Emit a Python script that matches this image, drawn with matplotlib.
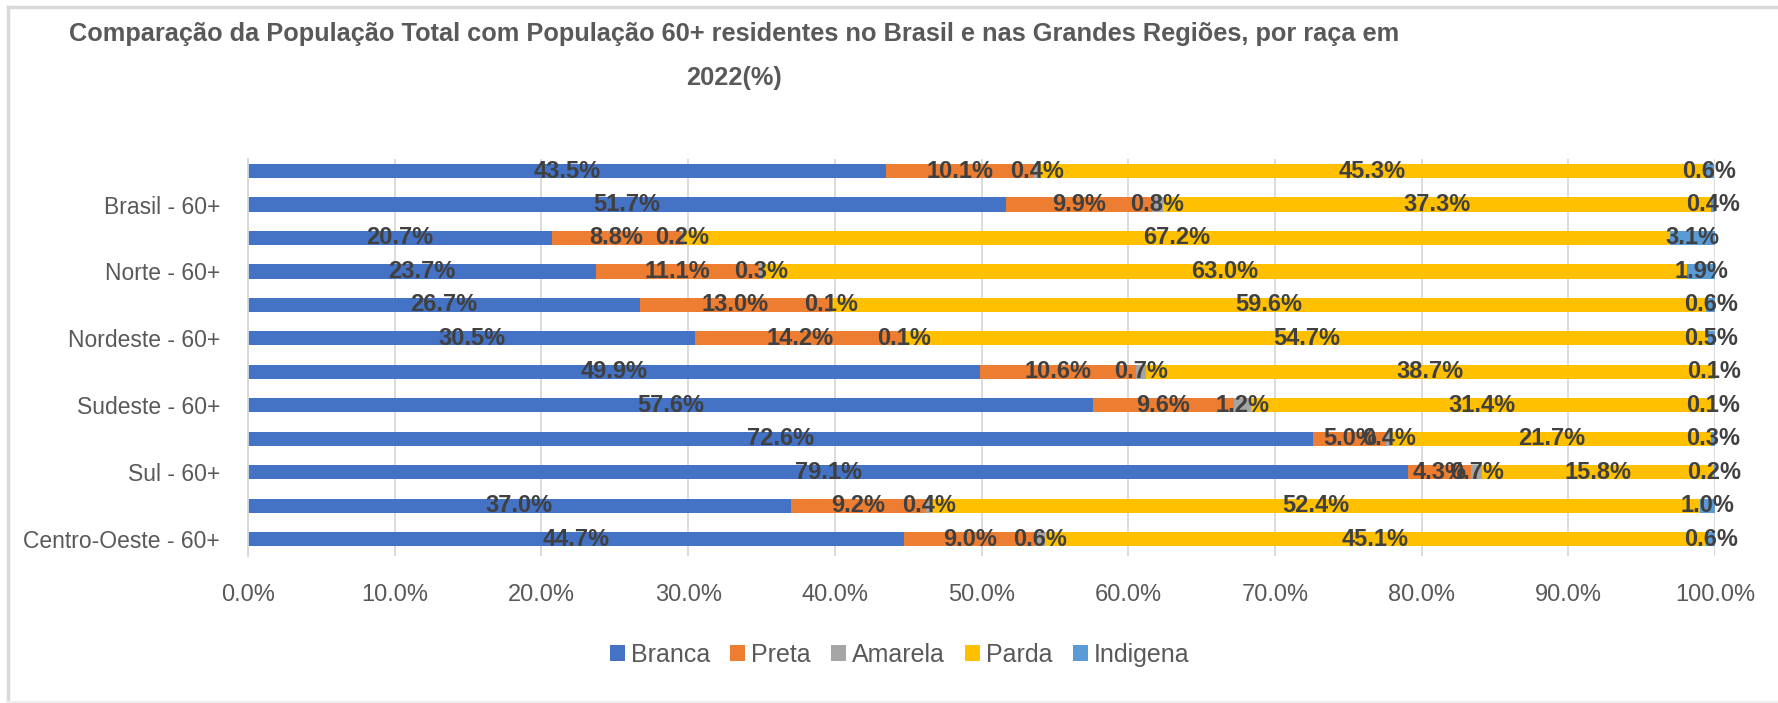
import numpy as np
import matplotlib
matplotlib.use('Agg')
import matplotlib.pyplot as plt
from matplotlib.lines import Line2D
from matplotlib.ticker import FuncFormatter

plt.rcParams['font.family'] = ['Liberation Sans Narrow', 'Liberation Sans', 'DejaVu Sans']

# ─────────────────────────────────────────
# DATA (% of population by race, 2022)
# ─────────────────────────────────────────
categories = ['Brasil', 'Brasil - 60+', 'Norte', 'Norte - 60+',
              'Nordeste', 'Nordeste - 60+', 'Sudeste', 'Sudeste - 60+',
              'Sul', 'Sul - 60+', 'Centro-Oeste', 'Centro-Oeste - 60+']
series = ['Branca', 'Preta', 'Amarela', 'Parda', 'Indigena']

branca   = [43.5, 51.7, 20.7, 23.7, 26.7, 30.5, 49.9, 57.6, 72.6, 79.1, 37.0, 44.7]
preta    = [10.1,  9.9,  8.8, 11.1, 13.0, 14.2, 10.6,  9.6,  5.0,  4.3,  9.2,  9.0]
amarela  = [ 0.4,  0.8,  0.2,  0.3,  0.1,  0.1,  0.7,  1.2,  0.4,  0.7,  0.4,  0.6]
parda    = [45.3, 37.3, 67.2, 63.0, 59.6, 54.7, 38.7, 31.4, 21.7, 15.8, 52.4, 45.1]
indigena = [ 0.6,  0.4,  3.1,  1.9,  0.6,  0.5,  0.1,  0.1,  0.3,  0.2,  1.0,  0.6]

colors = ['#4472C4', '#ED7D31', '#A5A5A5', '#FFC000', '#5B9BD5']

# ─────────────────────────────────────────
# PLOT
# ─────────────────────────────────────────
fig = plt.figure(figsize=(17.78, 7.03), dpi=100)
fig.patch.set_facecolor('white')
ax = fig.add_axes([248 / 1778, 1 - 556 / 703, (1715 - 248) / 1778, (556 - 159) / 703])

y = np.arange(len(categories))
left = np.zeros(len(categories))
for name, vals, col in zip(series, [branca, preta, amarela, parda, indigena], colors):
    bars = ax.barh(y, vals, left=left, height=0.42, color=col, label=name, zorder=2)
    ax.bar_label(bars, labels=[f'{v:.1f}%' for v in vals], label_type='center',
                 fontsize=17, fontweight='bold', color='#404040', zorder=3)
    left += np.array(vals)

ax.set_xlim(0, 100)
ax.set_ylim(11.5, -0.36)
ax.set_xticks(np.arange(0, 101, 10))
ax.xaxis.set_major_formatter(FuncFormatter(lambda v, _: f'{v:.1f}%'))
ax.set_yticks(y)
# only every second category label is shown, as in the original
ax.set_yticklabels([c if i % 2 == 1 else '' for i, c in enumerate(categories)])
ax.tick_params(axis='both', length=0, colors='#595959')
ax.tick_params(axis='x', pad=20, labelsize=17)
ax.tick_params(axis='y', pad=20, labelsize=16.5)
ax.grid(axis='x', color='#D9D9D9', lw=1.3, zorder=0)
for s in ['top', 'right', 'bottom']:
    ax.spines[s].set_visible(False)
ax.spines['left'].set_color('#D9D9D9')
ax.spines['left'].set_linewidth(1.3)

fig.text(734 / 1778, 1 - 56 / 703,
         'Comparação da População Total com População 60+ residentes no Brasil e nas Grandes Regiões, por raça em\n2022(%)',
         ha='center', va='center', fontsize=18.3, fontweight='bold', color='#595959', linespacing=2.0)

fig.legend(loc='center', bbox_to_anchor=(0.506, 1 - 655 / 703), ncol=5, frameon=False,
           fontsize=18, labelcolor='#595959', handlelength=0.6, handleheight=0.6,
           handletextpad=0.25, columnspacing=0.8)

# chart frame
fig.add_artist(Line2D([8 / 1778, 1], [1 - 7 / 703, 1 - 7 / 703], color='#D9D9D9', lw=2.5))
fig.add_artist(Line2D([8 / 1778, 8 / 1778], [0, 1 - 7 / 703], color='#D9D9D9', lw=2.5))
fig.add_artist(Line2D([8 / 1778, 1], [1 / 703, 1 / 703], color='#EEEEEE', lw=1.5))

plt.savefig('out.png', dpi=100)
